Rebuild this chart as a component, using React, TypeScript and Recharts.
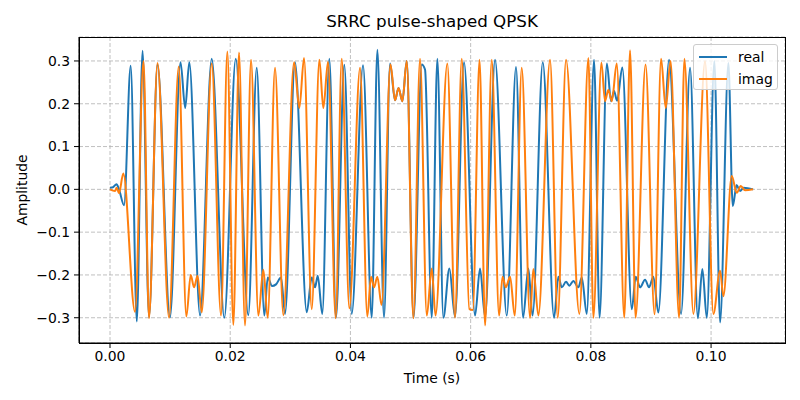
import { CartesianGrid, Line, LineChart, XAxis, YAxis } from "recharts";

// extrema of the real (I) branch
const realTime = [
  0.0, 0.0005, 0.00108, 0.0015, 0.00233, 0.00344, 0.00446, 0.00541, 0.00649, 0.0079,
  0.00998, 0.01173, 0.01251, 0.01319, 0.01498, 0.01692, 0.01902, 0.02092, 0.02301, 0.02441,
  0.02567, 0.02624, 0.02696, 0.02762, 0.02845, 0.02912, 0.03078, 0.03273, 0.03356, 0.03411,
  0.03456, 0.03532, 0.03649, 0.0376, 0.03898, 0.04022, 0.0421, 0.04354, 0.04448, 0.04559,
  0.04659, 0.04742, 0.048, 0.04864, 0.04937, 0.0505, 0.05186, 0.05241, 0.05353, 0.05446,
  0.05546, 0.05646, 0.0574, 0.0589, 0.06073, 0.06156, 0.0624, 0.06406, 0.06601, 0.06755,
  0.06872, 0.0696, 0.0703, 0.072, 0.07388, 0.07459, 0.07516, 0.07587, 0.07642, 0.07709,
  0.07792, 0.07849, 0.07932, 0.08053, 0.08145, 0.08266, 0.08336, 0.08386, 0.08436, 0.08524,
  0.08681, 0.08747, 0.08819, 0.08902, 0.08968, 0.0904, 0.09123, 0.09301, 0.09501, 0.09651,
  0.0978, 0.09855, 0.09929, 0.10055, 0.1015, 0.10288, 0.10361, 0.10425, 0.10483, 0.10541,
  0.10699,
];
const realValue = [
  0.004, 0.005, 0.012, 0.0, -0.037, 0.289, -0.309, 0.324, -0.298, 0.292,
  -0.299, 0.297, 0.19, 0.297, -0.295, 0.305, -0.3, 0.305, -0.294, 0.284,
  -0.295, -0.206, -0.226, -0.222, -0.206, -0.291, 0.297, -0.287, -0.206, -0.229,
  -0.202, -0.291, 0.305, -0.3, 0.291, -0.291, 0.29, -0.3, 0.326, -0.3,
  0.294, 0.208, 0.237, 0.206, 0.3, -0.3, 0.292, 0.28, -0.3, 0.305,
  -0.3, -0.185, -0.298, 0.297, -0.295, -0.185, -0.298, 0.303, -0.295, 0.286,
  -0.3, -0.185, -0.295, 0.297, -0.3, -0.204, -0.229, -0.216, -0.225, -0.214,
  -0.229, -0.206, -0.291, 0.303, -0.3, 0.294, 0.206, 0.23, 0.207, 0.285,
  -0.28, -0.204, -0.229, -0.211, -0.229, -0.204, -0.288, 0.303, -0.291, 0.284,
  -0.301, -0.186, -0.3, 0.3, -0.311, 0.295, -0.039, 0.01, -0.004, 0.004,
  0.0,
];

// extrema of the imaginary (Q) branch
const imagTime = [
  0.0, 0.00083, 0.00111, 0.0015, 0.00221, 0.00416, 0.00557, 0.00649, 0.0079, 0.00982,
  0.01143, 0.0127, 0.01343, 0.01398, 0.01456, 0.01526, 0.01692, 0.01847, 0.01952, 0.02052,
  0.02146, 0.02246, 0.02346, 0.02468, 0.02551, 0.02624, 0.02745, 0.02884, 0.03062, 0.0315,
  0.03228, 0.03356, 0.03483, 0.03549, 0.03627, 0.03755, 0.03855, 0.03982, 0.0416, 0.04281,
  0.04343, 0.04393, 0.04448, 0.04517, 0.04667, 0.04742, 0.048, 0.04864, 0.04937, 0.05047,
  0.05158, 0.0527, 0.05353, 0.05416, 0.05612, 0.0574, 0.05852, 0.05978, 0.06035, 0.06148,
  0.0624, 0.06351, 0.06473, 0.06531, 0.06584, 0.06656, 0.06734, 0.0685, 0.06988, 0.07043,
  0.07127, 0.07321, 0.07449, 0.07587, 0.07809, 0.07959, 0.08042, 0.08175, 0.08236, 0.08291,
  0.08348, 0.08431, 0.08556, 0.08652, 0.08744, 0.0891, 0.0906, 0.09168, 0.09246, 0.09326,
  0.09468, 0.09556, 0.09706, 0.099, 0.10038, 0.1015, 0.10205, 0.10344, 0.10428, 0.10494,
  0.10566, 0.10699,
];
const imagValue = [
  0.0, -0.004, 0.004, -0.009, 0.037, -0.286, 0.3, -0.301, 0.295, -0.3,
  0.287, -0.297, -0.2, -0.229, -0.202, -0.287, 0.294, -0.295, 0.322, -0.317,
  0.32, -0.318, 0.303, -0.295, -0.188, -0.3, 0.284, -0.294, 0.297, 0.19,
  0.307, -0.28, 0.303, 0.19, 0.298, -0.301, 0.305, -0.278, 0.284, -0.297,
  -0.204, -0.229, -0.204, -0.27, 0.292, 0.208, 0.237, 0.206, 0.3, -0.301,
  0.305, -0.295, -0.185, -0.295, 0.294, -0.3, 0.305, -0.28, -0.282, 0.303,
  -0.318, 0.303, -0.295, -0.204, -0.229, -0.204, -0.295, 0.284, -0.3, -0.186,
  -0.295, 0.303, -0.3, 0.303, -0.291, 0.307, -0.3, 0.296, 0.206, 0.233,
  0.206, 0.294, -0.3, 0.325, -0.3, 0.292, -0.292, 0.305, 0.19, 0.3,
  -0.3, 0.305, -0.291, 0.3, -0.291, -0.19, -0.25, 0.031, -0.008, 0.008,
  -0.002, 0.0,
];

const xTicks = [0, 0.02, 0.04, 0.06, 0.08, 0.1];
const yTicks = [-0.3, -0.2, -0.1, 0, 0.1, 0.2, 0.3];

const realData = realTime.map((t, i) => ({ t, v: realValue[i] }));
const imagData = imagTime.map((t, i) => ({ t, v: imagValue[i] }));

const BLUE = "#1f77b4";
const ORANGE = "#ff7f0e";
const FONT = "'DejaVu Sans', sans-serif";

const fmtY = (v: number) => v.toFixed(1).replace("-", "\u2212");

export default function App() {
  return (
    <div style={{ position: "absolute", left: 0, top: 0, width: 800, height: 400, background: "#fff", fontFamily: FONT }}>
      <LineChart width={800} height={400} margin={{ top: 37, right: 15, bottom: 27, left: 19 }}>
        <CartesianGrid stroke="#b0b0b0" strokeDasharray="4 2" strokeWidth={0.8} />
        <XAxis
          dataKey="t"
          type="number"
          domain={[-0.00516, 0.1123]}
          allowDataOverflow
          ticks={xTicks}
          tickFormatter={(v: number) => v.toFixed(2)}
          height={30}
          stroke="#000"
          tickSize={5}
          tickMargin={3}
          tick={{ fill: "#000", fontSize: 13.9, fontFamily: FONT }}
        />
        <YAxis
          type="number"
          domain={[-0.359, 0.356]}
          allowDataOverflow
          ticks={yTicks}
          tickFormatter={fmtY}
          width={60}
          stroke="#000"
          tickSize={5}
          tickMargin={4}
          tick={{ fill: "#000", fontSize: 13.9, fontFamily: FONT }}
        />
        <Line data={realData} dataKey="v" name="real" type="monotone" stroke={BLUE} strokeWidth={2} dot={false} isAnimationActive={false} />
        <Line data={imagData} dataKey="v" name="imag" type="monotone" stroke={ORANGE} strokeWidth={2} dot={false} isAnimationActive={false} />
      </LineChart>

      {/* axes frame */}
      <div style={{ position: "absolute", left: 79, top: 37, width: 707, height: 307, boxSizing: "border-box", border: "1px solid #000", pointerEvents: "none" }} />

      <div style={{ position: "absolute", left: 79, width: 706, top: 11, textAlign: "center", fontSize: 16.7, color: "#000" }}>
        SRRC pulse-shaped QPSK
      </div>
      <div style={{ position: "absolute", left: 79, width: 706, top: 370, textAlign: "center", fontSize: 13.9, color: "#000" }}>
        Time (s)
      </div>
      <div
        style={{
          position: "absolute",
          left: 22,
          top: 190,
          transform: "translate(-50%, -50%) rotate(-90deg)",
          fontSize: 13.9,
          color: "#000",
          whiteSpace: "nowrap",
        }}
      >
        Amplitude
      </div>

      {/* legend */}
      <div
        style={{
          position: "absolute",
          left: 693,
          top: 44,
          width: 85,
          height: 46,
          boxSizing: "border-box",
          background: "rgba(255,255,255,0.8)",
          border: "1px solid #cccccc",
          borderRadius: 3,
          fontSize: 13.9,
          color: "#000",
        }}
      >
        {[
          { label: "real", color: BLUE, top: 3 },
          { label: "imag", color: ORANGE, top: 25 },
        ].map((e) => (
          <div key={e.label} style={{ position: "absolute", left: 5, top: e.top, height: 18, display: "flex", alignItems: "center" }}>
            <span style={{ display: "inline-block", width: 28, height: 2, background: e.color, marginRight: 11 }} />
            <span>{e.label}</span>
          </div>
        ))}
      </div>
    </div>
  );
}
